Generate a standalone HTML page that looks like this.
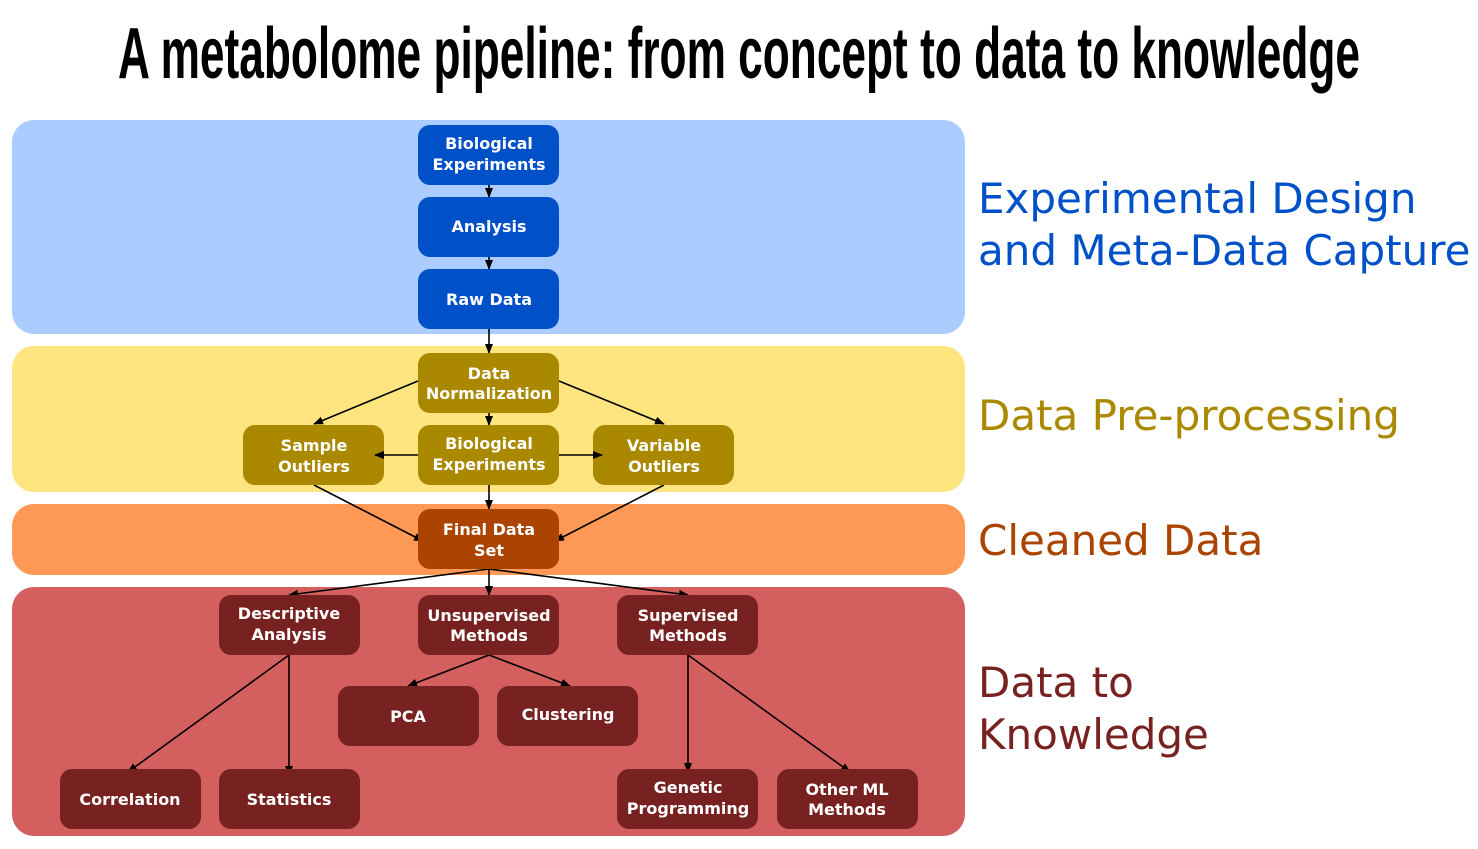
<!DOCTYPE html>
<html><head><meta charset="utf-8"><style>
html,body{margin:0;padding:0;background:#fff;}
svg{display:block}
.n{font-family:"DejaVu Sans",sans-serif;font-weight:bold;font-size:16px;fill:#fff;text-anchor:middle}
.l{font-family:"DejaVu Sans",sans-serif;font-size:42px}
</style></head><body>
<svg width="1478" height="849" viewBox="0 0 1478 849" xmlns="http://www.w3.org/2000/svg">
<defs><marker id="a" markerWidth="10" markerHeight="8" refX="9" refY="4" orient="auto" markerUnits="userSpaceOnUse"><path d="M0,0 L10,4 L0,8 z" fill="#000"/></marker></defs>
<text x="118" y="78" font-family="'Liberation Sans Narrow','Liberation Sans',sans-serif" font-weight="bold" font-size="72" textLength="1242" lengthAdjust="spacingAndGlyphs">A metabolome pipeline: from concept to data to knowledge</text>
<rect x="12" y="120" width="953" height="214" rx="22" fill="#aaccff"/>
<rect x="12" y="346" width="953" height="146" rx="22" fill="#ffe580"/>
<rect x="12" y="504" width="953" height="71" rx="22" fill="#ff9955"/>
<rect x="12" y="587" width="953" height="249" rx="22" fill="#d45f5f"/>
<text class="l" x="978" y="213" fill="#0050c8">Experimental Design</text>
<text class="l" x="978" y="265" fill="#0050c8">and Meta-Data Capture</text>
<text class="l" x="978" y="430" fill="#aa8800">Data Pre-processing</text>
<text class="l" x="978" y="555" fill="#aa4400">Cleaned Data</text>
<text class="l" x="978" y="697" fill="#782121">Data to</text>
<text class="l" x="978" y="749" fill="#782121">Knowledge</text>
<g stroke="#000" stroke-width="1.6" marker-end="url(#a)" fill="none">
<line x1="489" y1="185" x2="489" y2="197"/>
<line x1="489" y1="257" x2="489" y2="269"/>
<line x1="489" y1="329" x2="489" y2="353"/>
<line x1="418" y1="381" x2="314" y2="424"/>
<line x1="559" y1="381" x2="664" y2="424"/>
<line x1="489" y1="413" x2="489" y2="425"/>
<line x1="489" y1="485" x2="489" y2="509"/>
<line x1="314" y1="485" x2="423" y2="541"/>
<line x1="664" y1="485" x2="555" y2="541"/>
<line x1="489" y1="569" x2="289" y2="595"/>
<line x1="489" y1="569" x2="489" y2="595"/>
<line x1="489" y1="569" x2="688" y2="595"/>
<line x1="289" y1="655" x2="128" y2="772"/>
<line x1="289" y1="655" x2="289" y2="775"/>
<line x1="489" y1="655" x2="408" y2="686"/>
<line x1="489" y1="655" x2="570" y2="686"/>
<line x1="688" y1="655" x2="688" y2="772"/>
<line x1="688" y1="655" x2="850" y2="772"/>
</g>
<g>
<rect x="418" y="125" width="141" height="60" rx="12" fill="#0050c8"/>
<rect x="418" y="197" width="141" height="60" rx="12" fill="#0050c8"/>
<rect x="418" y="269" width="141" height="60" rx="12" fill="#0050c8"/>
<rect x="418" y="353" width="141" height="60" rx="12" fill="#aa8800"/>
<rect x="243" y="425" width="141" height="60" rx="12" fill="#aa8800"/>
<rect x="418" y="425" width="141" height="60" rx="12" fill="#aa8800"/>
<rect x="593" y="425" width="141" height="60" rx="12" fill="#aa8800"/>
<rect x="418" y="509" width="141" height="60" rx="12" fill="#aa4400"/>
<rect x="219" y="595" width="141" height="60" rx="12" fill="#782121"/>
<rect x="418" y="595" width="141" height="60" rx="12" fill="#782121"/>
<rect x="617" y="595" width="141" height="60" rx="12" fill="#782121"/>
<rect x="338" y="686" width="141" height="60" rx="12" fill="#782121"/>
<rect x="497" y="686" width="141" height="60" rx="12" fill="#782121"/>
<rect x="60" y="769" width="141" height="60" rx="12" fill="#782121"/>
<rect x="219" y="769" width="141" height="60" rx="12" fill="#782121"/>
<rect x="617" y="769" width="141" height="60" rx="12" fill="#782121"/>
<rect x="777" y="769" width="141" height="60" rx="12" fill="#782121"/>
</g>
<g stroke="#000" stroke-width="1.6" marker-end="url(#a)" fill="none">
<line x1="418" y1="455" x2="375" y2="455"/>
<line x1="559" y1="455" x2="602" y2="455"/>
</g>
<text class="n" x="489" y="149">Biological</text><text class="n" x="489" y="170">Experiments</text>
<text class="n" x="489" y="232">Analysis</text>
<text class="n" x="489" y="305">Raw Data</text>
<text class="n" x="489" y="379">Data</text><text class="n" x="489" y="399">Normalization</text>
<text class="n" x="314" y="451">Sample</text><text class="n" x="314" y="472">Outliers</text>
<text class="n" x="489" y="449">Biological</text><text class="n" x="489" y="470">Experiments</text>
<text class="n" x="664" y="451">Variable</text><text class="n" x="664" y="472">Outliers</text>
<text class="n" x="489" y="535">Final Data</text><text class="n" x="489" y="556">Set</text>
<text class="n" x="289" y="619">Descriptive</text><text class="n" x="289" y="640">Analysis</text>
<text class="n" x="489" y="621">Unsupervised</text><text class="n" x="489" y="641">Methods</text>
<text class="n" x="688" y="621">Supervised</text><text class="n" x="688" y="641">Methods</text>
<text class="n" x="408" y="722">PCA</text>
<text class="n" x="568" y="720">Clustering</text>
<text class="n" x="130" y="805">Correlation</text>
<text class="n" x="289" y="805">Statistics</text>
<text class="n" x="688" y="793">Genetic</text><text class="n" x="688" y="814">Programming</text>
<text class="n" x="847" y="795">Other ML</text><text class="n" x="847" y="815">Methods</text>
</svg>
</body></html>
